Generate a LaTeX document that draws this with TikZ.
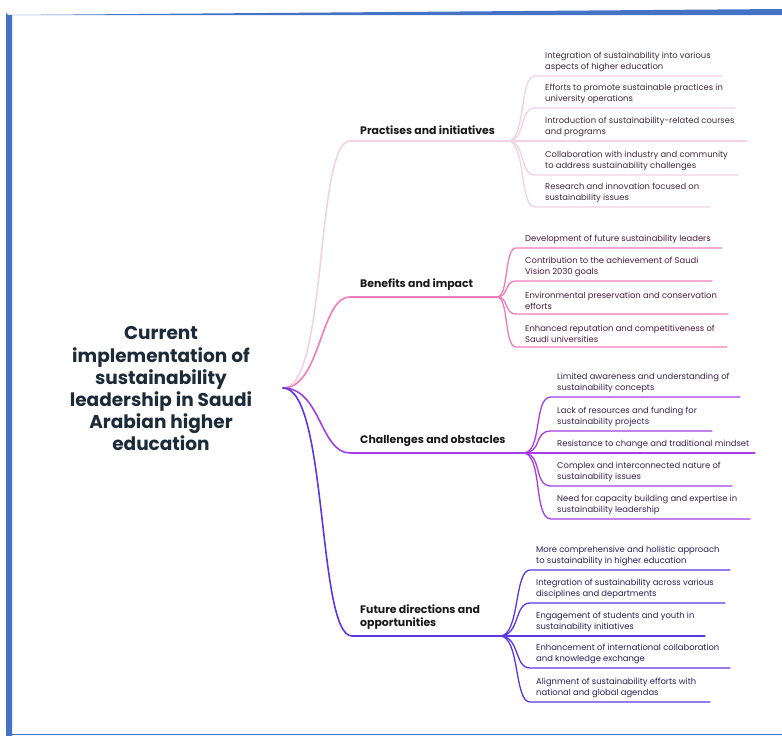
\documentclass[tikz,border=0pt]{standalone}
\usepackage{fontspec}
\setmainfont{Poppins}
\definecolor{frameblue}{HTML}{4472C4}
\definecolor{cA}{HTML}{F2D2E3}
\definecolor{cB}{HTML}{F27CBA}
\definecolor{cC}{HTML}{A63FE3}
\definecolor{cD}{HTML}{5B38E0}
\definecolor{titlecol}{HTML}{1C2B39}
\definecolor{tA}{HTML}{3E2A38}
\definecolor{tB}{HTML}{4E1C3E}
\definecolor{tC}{HTML}{3A2350}
\definecolor{tD}{HTML}{27205A}
\tikzset{
  mainline/.style={line width=1.6pt, line cap=round},
  leafline/.style={line width=1.3pt, line cap=round},
  leaftext/.style={anchor=south west, align=left, inner sep=0pt, font=\fontsize{8.4}{10.4}\selectfont},
  childtext/.style={anchor=south west, align=left, inner sep=0pt, font=\fontsize{10.9}{13}\selectfont\bfseries, text=black!90},
}
\begin{document}
\begin{tikzpicture}[x=1pt,y=-1pt]
\useasboundingbox (0,0) rectangle (782,736);
\fill[white] (0,0) rectangle (782,736);
% frame
\fill[frameblue] (6,736) -- (6,12) arc[start angle=180,end angle=90,radius=3] -- (782,9) -- (782,15) -- (12,15) -- (12,736) -- cycle;
\draw[frameblue, line width=1.5pt] (12,734.5) -- (782,734.5);

% title
\node[align=center, inner sep=0pt, font=\fontsize{18.5}{22.2}\selectfont\bfseries, text=titlecol] (title) at (161,389) {Current\\implementation of\\sustainability\\leadership in Saudi\\Arabian higher\\education};

\coordinate (root) at (283,388);

% child coordinates
\coordinate (As) at (350,141); \coordinate (Ah) at (508,141);
\coordinate (Bs) at (350,297); \coordinate (Bh) at (497,297);
\coordinate (Cs) at (350,453); \coordinate (Ch) at (523,453);
\coordinate (Ds) at (352,636); \coordinate (Dh) at (500,636);

\draw[mainline, cA] (root) .. controls +(45,0) and +(-35,0) .. (As) -- (Ah);
\draw[mainline, cB] (root) .. controls +(38,0) and +(-30,0) .. (Bs) -- (Bh);
\draw[mainline, cC] (root) .. controls +(38,0) and +(-30,0) .. (Cs) -- (Ch);
\draw[mainline, cD] (root) .. controls +(45,0) and +(-35,0) .. (Ds) -- (Dh);

\node[childtext] (nA) at (360,135) {Practises and initiatives};
\node[childtext] (nB) at (360,291) {Benefits and impact};
\node[childtext] (nC) at (360,447) {Challenges and obstacles};
\node[childtext] (nD) at (360,630) {Future directions and\\opportunities};

% leaves A
\foreach \i/\y/\e/\t in {1/76/722/{Integration of sustainability into various\\aspects of higher education},
                       2/108/735/{Efforts to promote sustainable practices in\\university operations},
                       3/141/747/{Introduction of sustainability-related courses\\and programs},
                       4/175/738/{Collaboration with industry and community\\to address sustainability challenges},
                       5/207/710/{Research and innovation focused on\\sustainability issues}}{
  \coordinate (A\i s) at (535,\y); \coordinate (A\i e) at (\e,\y);
  \draw[leafline, cA] (Ah) .. controls +(18,0) and +(-16,0) .. (A\i s) -- (A\i e);
  \node[leaftext, text=tA] (lA\i) at (545,\y-4.5) {\t};
}
% leaves B
\foreach \i/\y/\e/\t in {1/248/722/{Development of future sustainability leaders},
                       2/281/712/{Contribution to the achievement of Saudi\\Vision 2030 goals},
                       3/314/728/{Environmental preservation and conservation\\efforts},
                       4/347/727/{Enhanced reputation and competitiveness of\\Saudi universities}}{
  \coordinate (B\i s) at (516,\y); \coordinate (B\i e) at (\e,\y);
  \draw[leafline, cB] (Bh) .. controls +(12,0) and +(-12,0) .. (B\i s) -- (B\i e);
  \node[leaftext, text=tB] (lB\i) at (525,\y-4.5) {\t};
}
% leaves C
\foreach \i/\y/\e/\t in {1/397/740/{Limited awareness and understanding of\\sustainability concepts},
                       2/431/712/{Lack of resources and funding for\\sustainability projects},
                       3/453/755/{Resistance to change and traditional mindset},
                       4/486/732/{Complex and interconnected nature of\\sustainability issues},
                       5/519/750/{Need for capacity building and expertise in\\sustainability leadership}}{
  \coordinate (C\i s) at (551,\y); \coordinate (C\i e) at (\e,\y);
  \draw[leafline, cC] (Ch) .. controls +(20,0) and +(-18,0) .. (C\i s) -- (C\i e);
  \node[leaftext, text=tC] (lC\i) at (557,\y-4.5) {\t};
}
% leaves D
\foreach \i/\y/\e/\t in {1/570/730/{More comprehensive and holistic approach\\to sustainability in higher education},
                       2/603/725/{Integration of sustainability across various\\disciplines and departments},
                       3/636/705/{Engagement of students and youth in\\sustainability initiatives},
                       4/668/730/{Enhancement of international collaboration\\and knowledge exchange},
                       5/702/710/{Alignment of sustainability efforts with\\national and global agendas}}{
  \coordinate (D\i s) at (530,\y); \coordinate (D\i e) at (\e,\y);
  \draw[leafline, cD] (Dh) .. controls +(20,0) and +(-16,0) .. (D\i s) -- (D\i e);
  \node[leaftext, text=tD] (lD\i) at (536,\y-4.5) {\t};
}
\end{tikzpicture}
\end{document}
